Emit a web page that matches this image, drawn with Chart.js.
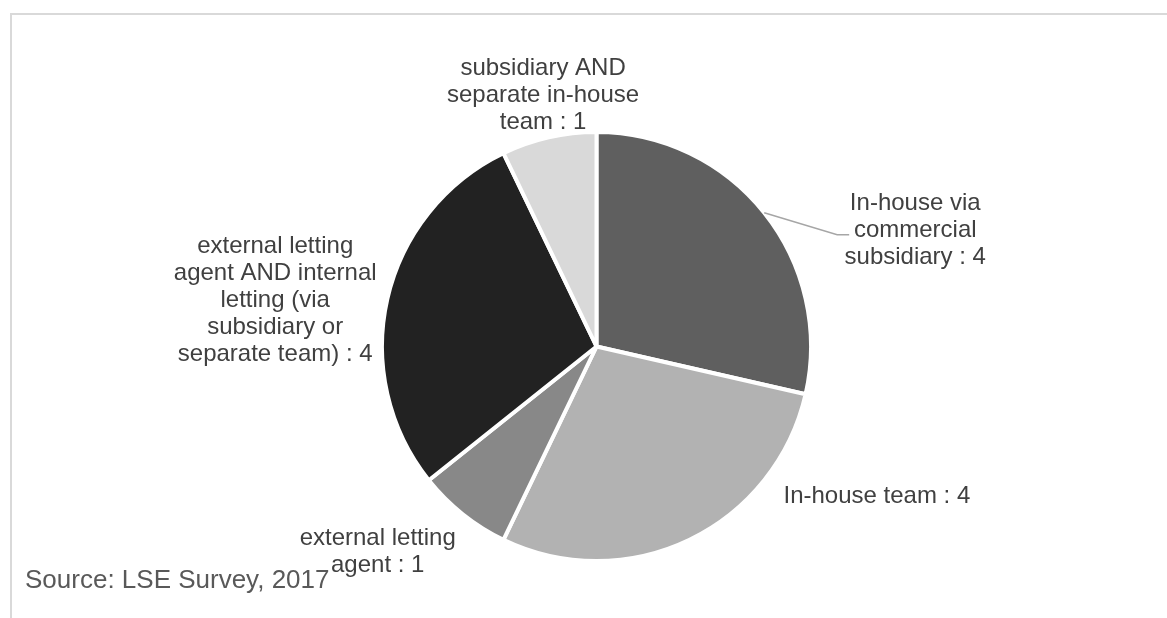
<!DOCTYPE html>
<html>
<head>
<meta charset="utf-8">
<script src="https://cdn.jsdelivr.net/npm/chart.js@4.4.1/dist/chart.umd.min.js"></script>
<style>
  html, body { margin: 0; padding: 0; background: #fff; overflow: hidden; }
  #frame {
    position: absolute; left: 10px; top: 13px;
    width: 1300px; height: 800px;
    border: 2px solid #d9d9d9;
  }
  #wrap { position: absolute; left: 0; top: 0; width: 1167px; height: 618px; }
</style>
</head>
<body>
<div id="frame"></div>
<div id="wrap"><canvas id="pieChart"></canvas></div>
<script>
const categories = [
  "In-house via commercial subsidiary",
  "In-house team",
  "external letting agent",
  "external letting agent AND internal letting (via subsidiary or separate team)",
  "subsidiary AND separate in-house team",
];
const counts = [4, 4, 1, 4, 1];
// how each label wraps in the picture (the value is appended to the last line)
const labelLines = [
  ["In-house via", "commercial", "subsidiary :"],
  ["In-house team :"],
  ["external letting", "agent :"],
  ["external letting", "agent AND internal", "letting (via", "subsidiary or", "separate team) :"],
  ["subsidiary AND", "separate in-house", "team :"],
];
const sliceColors = ["#5f5f5f", "#b2b2b2", "#888888", "#222222", "#d9d9d9"];
const sourceNote = "Source: LSE Survey, 2017";

document.addEventListener("DOMContentLoaded", () => {
  // label centres relative to the pie centre, in units of the radius
  const labelSpots = [
    { dx: 1.486, dy: -0.54, leader: true },
    { dx: 1.307, dy: 0.70 },
    { dx: -1.02, dy: 0.958 },
    { dx: -1.498, dy: -0.215 },
    { dx: -0.249, dy: -1.17 },
  ];

  const pieLabels = {
    id: "pieLabels",
    afterDatasetsDraw(chart) {
      const ctx = chart.ctx;
      const arcs = chart.getDatasetMeta(0).data;
      ctx.save();
      ctx.font = "24px 'Liberation Sans', Arial, sans-serif";
      ctx.fillStyle = "#404040";
      ctx.textAlign = "center";
      ctx.textBaseline = "middle";
      const lineH = 27;
      arcs.forEach((arc, i) => {
        const { x, y, outerRadius: r, startAngle, endAngle } = arc.getProps(
          ["x", "y", "outerRadius", "startAngle", "endAngle"], true);
        const spot = labelSpots[i];
        const cx = x + spot.dx * r;
        const cy = y + spot.dy * r;
        const lines = labelLines[i].slice();
        lines[lines.length - 1] += " " + counts[i];
        const top = cy - ((lines.length - 1) * lineH) / 2;
        lines.forEach((t, k) => ctx.fillText(t, cx, top + k * lineH));

        if (spot.leader) {
          const mid = (startAngle + endAngle) / 2;
          ctx.beginPath();
          ctx.strokeStyle = "#a6a6a6";
          ctx.lineWidth = 1.5;
          ctx.moveTo(x + Math.cos(mid) * r, y + Math.sin(mid) * r);
          ctx.lineTo(x + 1.122 * r, y - 0.521 * r);
          ctx.lineTo(x + 1.178 * r, y - 0.521 * r);
          ctx.stroke();
        }
      });

      ctx.textAlign = "left";
      ctx.font = "26px 'Liberation Sans', Arial, sans-serif";
      ctx.fillStyle = "#595959";
      ctx.fillText(sourceNote, 25, 581);
      ctx.restore();
    },
  };

  new Chart(document.getElementById("pieChart"), {
    type: "pie",
    data: {
      labels: categories,
      datasets: [
        {
          data: counts,
          backgroundColor: sliceColors,
          borderColor: "#ffffff",
          borderWidth: 4,
          hoverOffset: 0,
        },
      ],
    },
    options: {
      responsive: true,
      maintainAspectRatio: false,
      animation: false,
      devicePixelRatio: 1,
      layout: { padding: { top: 130, bottom: 55, left: 380, right: 354 } },
      plugins: {
        legend: { display: false },
        tooltip: { enabled: false },
      },
    },
    plugins: [pieLabels],
  });
});
</script>
</body>
</html>
